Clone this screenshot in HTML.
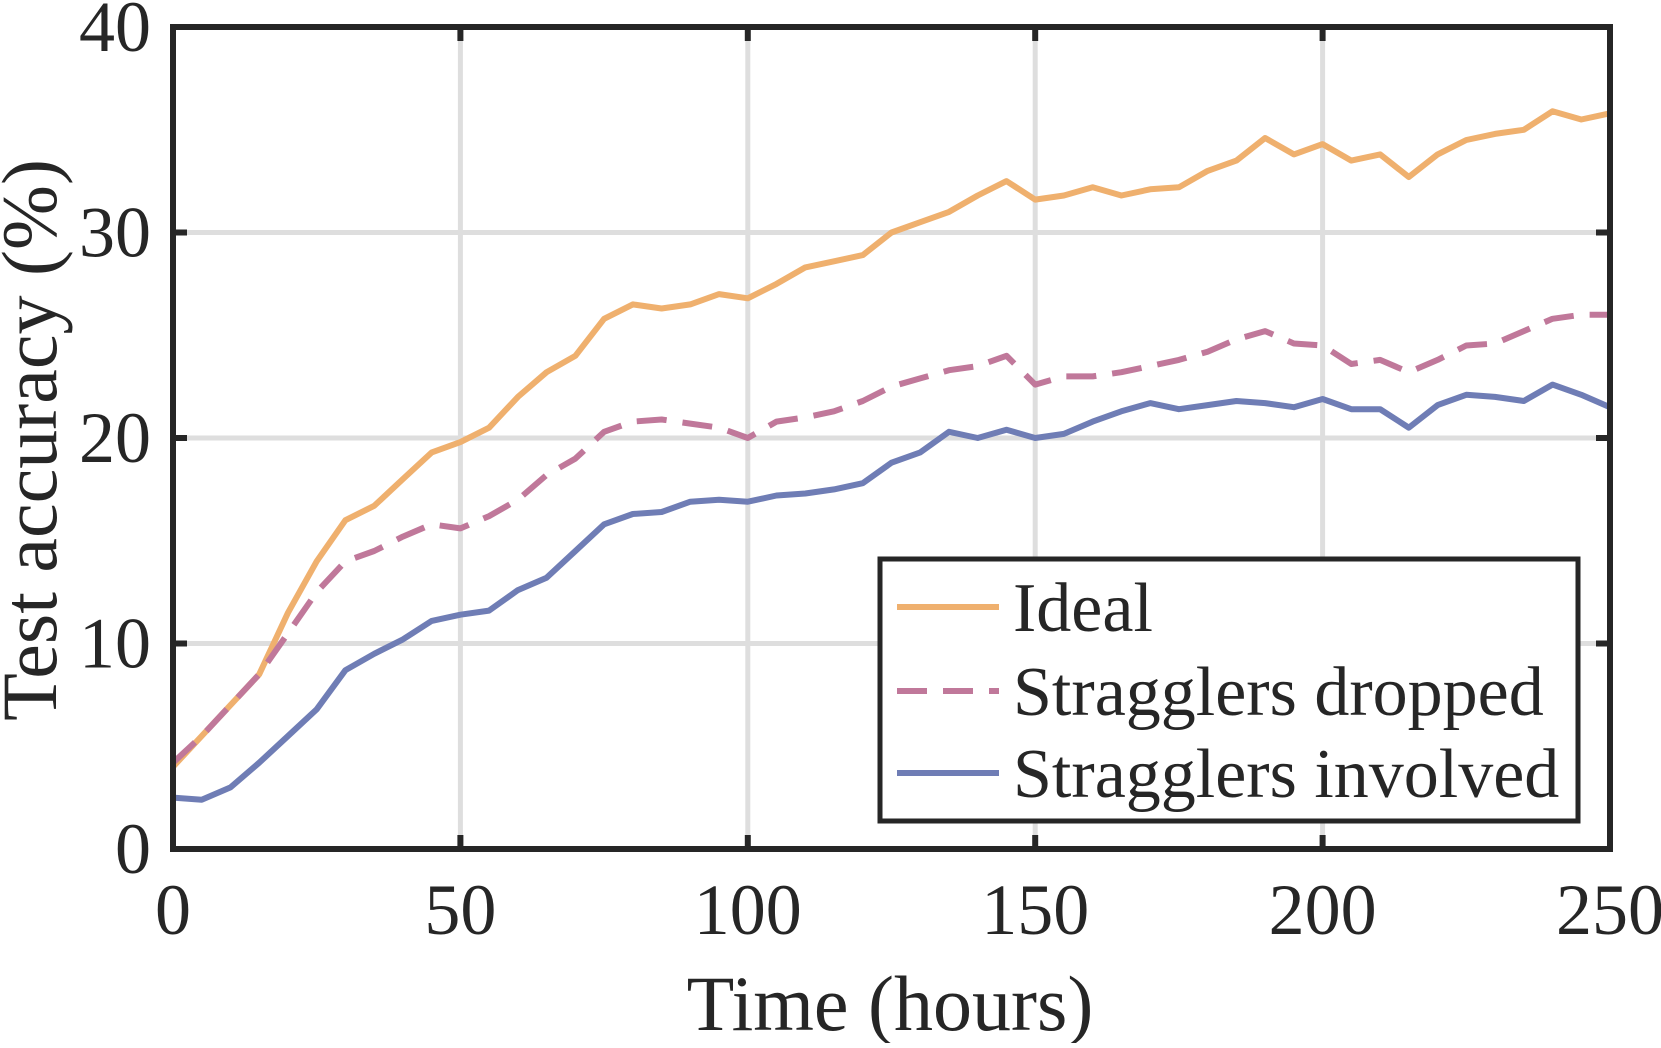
<!DOCTYPE html>
<html><head><meta charset="utf-8"><style>
html,body{margin:0;padding:0;background:#fff;}
svg text{font-family:"Liberation Serif",serif;fill:#262626;}
</style></head><body>
<svg id="chart" width="1661" height="1043" viewBox="0 0 1661 1043" xmlns="http://www.w3.org/2000/svg">
<g id="grid"></g>
<g id="series"></g>
<rect x="173" y="27" width="1437" height="822" fill="none" stroke="#262626" stroke-width="6"/>
<g id="ticks"></g>
<text x="890" y="1030" font-size="78" text-anchor="middle">Time (hours)</text>
<text transform="translate(56,440) rotate(-90)" font-size="78" text-anchor="middle">Test accuracy (%)</text>
<g>
<rect x="880" y="559" width="698" height="262" fill="#fff" stroke="#262626" stroke-width="5"/>
<line x1="897" y1="607" x2="999" y2="607" stroke="#EFB06E" stroke-width="6"/>
<text x="1013" y="631" font-size="70">Ideal</text>
<line x1="897" y1="691" x2="999" y2="691" stroke="#C0789A" stroke-width="6" stroke-dasharray="30 16"/>
<text x="1013" y="715" font-size="70">Stragglers dropped</text>
<line x1="897" y1="773" x2="999" y2="773" stroke="#6F7DB5" stroke-width="6"/>
<text x="1013" y="797" font-size="70">Stragglers involved</text>
</g>
</svg>
<script>
const times=[0,5,10,15,20,25,30,35,40,45,50,55,60,65,70,75,80,85,90,95,100,105,110,115,120,125,130,135,140,145,150,155,160,165,170,175,180,185,190,195,200,205,210,215,220,225,230,235,240,245,250];
const ideal=[4,5.5,7,8.5,11.5,14,16,16.7,18,19.3,19.8,20.5,22,23.2,24,25.8,26.5,26.3,26.5,27,26.8,27.5,28.3,28.6,28.9,30,30.5,31,31.8,32.5,31.6,31.8,32.2,31.8,32.1,32.2,33,33.5,34.6,33.8,34.3,33.5,33.8,32.7,33.8,34.5,34.8,35,35.9,35.5,35.8];
const dropped=[4.2,5.5,7,8.5,10.5,12.5,14,14.5,15.2,15.8,15.6,16.2,17,18.2,19,20.3,20.8,20.9,20.7,20.5,20,20.8,21,21.3,21.8,22.5,22.9,23.3,23.5,24,22.6,23,23,23.2,23.5,23.8,24.2,24.8,25.2,24.6,24.5,23.6,23.8,23.2,23.8,24.5,24.6,25.2,25.8,26,26];
const involved=[2.5,2.4,3,4.2,5.5,6.8,8.7,9.5,10.2,11.1,11.4,11.6,12.6,13.2,14.5,15.8,16.3,16.4,16.9,17,16.9,17.2,17.3,17.5,17.8,18.8,19.3,20.3,20,20.4,20,20.2,20.8,21.3,21.7,21.4,21.6,21.8,21.7,21.5,21.9,21.4,21.4,20.5,21.6,22.1,22,21.8,22.6,22.1,21.5];
const xTicks=[0,50,100,150,200,250];
const yTicks=[0,10,20,30,40];
const NS="http://www.w3.org/2000/svg";
const X0=173,X1=1610,Y0=849,Y1=27;
function sx(v){return X0+(v-0)/250*(X1-X0);}
function sy(v){return Y0-(v-0)/40*(Y0-Y1);}
function mk(tag,attrs,parent){const e=document.createElementNS(NS,tag);for(const k in attrs)e.setAttribute(k,attrs[k]);parent.appendChild(e);return e;}
const grid=document.getElementById('grid'),ticks=document.getElementById('ticks'),series=document.getElementById('series');
xTicks.forEach(t=>{
  const g=mk('line',{x1:sx(t),x2:sx(t),y1:Y1,y2:Y0,stroke:'#dedede','stroke-width':5},grid);
  
  
  const a=mk('line',{x1:sx(t),x2:sx(t),y1:Y0,y2:Y0-14,stroke:'#262626','stroke-width':6},ticks);
  
  
  const b=mk('line',{x1:sx(t),x2:sx(t),y1:Y1,y2:Y1+14,stroke:'#262626','stroke-width':6},ticks);
  
  
  const l=mk('text',{x:sx(t),y:934,'font-size':72,'text-anchor':'middle'},ticks);l.textContent=t;
  
  
});
yTicks.forEach(t=>{
  const g=mk('line',{x1:X0,x2:X1,y1:sy(t),y2:sy(t),stroke:'#dedede','stroke-width':5},grid);
  
  
  const a=mk('line',{x1:X0,x2:X0+14,y1:sy(t),y2:sy(t),stroke:'#262626','stroke-width':6},ticks);
  
  
  const b=mk('line',{x1:X1,x2:X1-14,y1:sy(t),y2:sy(t),stroke:'#262626','stroke-width':6},ticks);
  
  
  const l=mk('text',{x:151,y:sy(t)+24,'font-size':72,'text-anchor':'end'},ticks);l.textContent=t;
  
  
});
function line(vals,color,dash,name){
  const d=vals.map((v,i)=>(i?'L':'M')+sx(times[i]).toFixed(1)+','+sy(v).toFixed(1)).join(' ');
  const p=mk('path',{d:d,fill:'none',stroke:color,'stroke-width':6,'stroke-linejoin':'round'},series);
  if(dash)p.setAttribute('stroke-dasharray',dash);
  
  
}
line(ideal,'#EFB06E',null,'line-ideal');
line(dropped,'#C0789A','30 16','line-stragglers-dropped');
line(involved,'#6F7DB5',null,'line-stragglers-involved');
</script>
</body></html>
